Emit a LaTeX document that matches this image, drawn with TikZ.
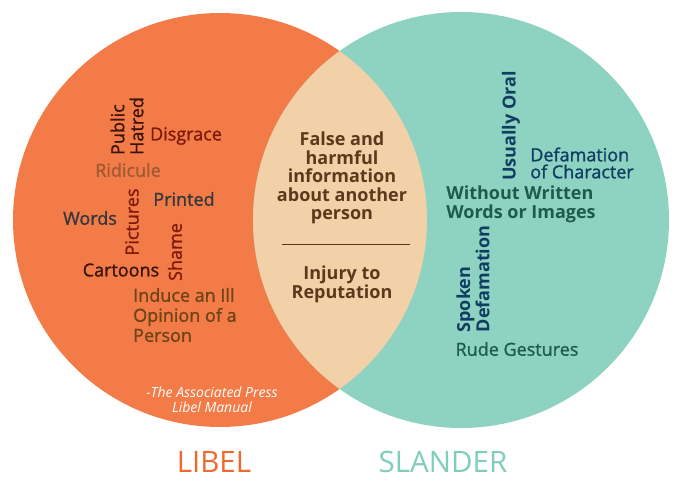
\documentclass[tikz,border=0pt]{standalone}
\usepackage{fontspec}
\setmainfont{Open Sans}
\newfontfamily\semibold{Open Sans}[FakeBold=1.2]
\usepackage{tikz}
\usetikzlibrary{positioning}

\definecolor{libelorange}{RGB}{243,123,71}
\definecolor{slanderteal}{RGB}{142,210,194}
\definecolor{lenspeach}{RGB}{242,208,168}
\definecolor{libeltitle}{RGB}{238,106,48}
\definecolor{slandertitle}{RGB}{128,205,186}
\definecolor{darkred}{RGB}{125,26,12}
\definecolor{ridiculebrown}{RGB}{158,90,50}
\definecolor{darkgrey}{RGB}{51,56,60}
\definecolor{cartoonbrown}{RGB}{58,20,8}
\definecolor{inducebrown}{RGB}{110,67,24}
\definecolor{lensbrown}{RGB}{91,58,28}
\definecolor{navy}{RGB}{15,62,98}
\definecolor{darkgreen}{RGB}{29,92,74}

\begin{document}
\begin{tikzpicture}[
    x=1pt, y=-1pt,
    every node/.style={align=center, inner sep=0pt},
    word/.style={font=\fontsize{18}{19}\semibold},
    boldword/.style={font=\fontsize{18}{19}\selectfont\bfseries},
    upword/.style={rotate=90, align=left},
    title/.style={font=\fontsize{29.5}{31}\selectfont}
  ]
  \useasboundingbox (0,0) rectangle (680,495);

  % The two circles and their overlap
  \fill[libelorange] (220,220) circle (207);
  \fill[slanderteal] (461,220) circle (208);
  \begin{scope}
    \clip (220,220) circle (207);
    \fill[lenspeach] (461,220) circle (208);
  \end{scope}

  % Libel side
  \node[word, upword, text=cartoonbrown] (hatred) at (127,126) {Public\\Hatred};
  \node[word, text=darkred] (disgrace) at (186,136) {Disgrace};
  \node[word, text=ridiculebrown] (ridicule) at (128,170) {Ridicule};
  \node[word, text=darkgrey] (printed) at (184,199) {Printed};
  \node[word, text=darkgrey] (words) at (90,218) {Words};
  \node[word, upword, text=darkred] (pictures) at (132,222) {Pictures};
  \node[word, upword, text=darkred] (shame) at (175,252) {Shame};
  \node[word, text=cartoonbrown] (cartoons) at (121,270) {Cartoons};
  \node[word, align=left, anchor=west, text=inducebrown,
        font=\fontsize{18}{20}\semibold] (induce) at (133,315)
    {Induce an Ill\\Opinion of a\\Person};
  \node[text=white, font=\fontsize{14}{15}\selectfont\itshape] (source) at (212,400)
    {-The Associated Press\\Libel Manual};

  % Overlap
  \node[boldword, text=lensbrown, font=\fontsize{18}{18.5}\selectfont\bfseries] (falseinfo) at (342,178)
    {False and\\harmful\\information\\about another\\person};
  \coordinate (divleft) at (282,244);
  \coordinate (divright) at (410,244);
  \draw[lensbrown, thick] (divleft) -- (divright);
  \node[boldword, text=lensbrown] (injury) at (342,284) {Injury to\\Reputation};

  % Slander side
  \node[boldword, upword, text=navy] (oral) at (511,126) {Usually Oral};
  \node[word, align=left, text=navy, font=\fontsize{18}{17}\semibold] (character) at (582,163)
    {Defamation\\of Character};
  \node[boldword, align=left, text=darkgreen] (written) at (521,204)
    {Without Written\\Words or Images};
  \node[boldword, upword, text=navy, font=\fontsize{18}{17.5}\selectfont\bfseries] (spoken) at (473,279) {Spoken\\Defamation};
  \node[word, text=darkgreen] (gestures) at (517,349) {Rude Gestures};

  % Titles
  \node[title, text=libeltitle] (libel) at (214,462) {LIBEL};
  \node[title, text=slandertitle] (slander) at (443,462) {SLANDER};
\end{tikzpicture}
\end{document}
